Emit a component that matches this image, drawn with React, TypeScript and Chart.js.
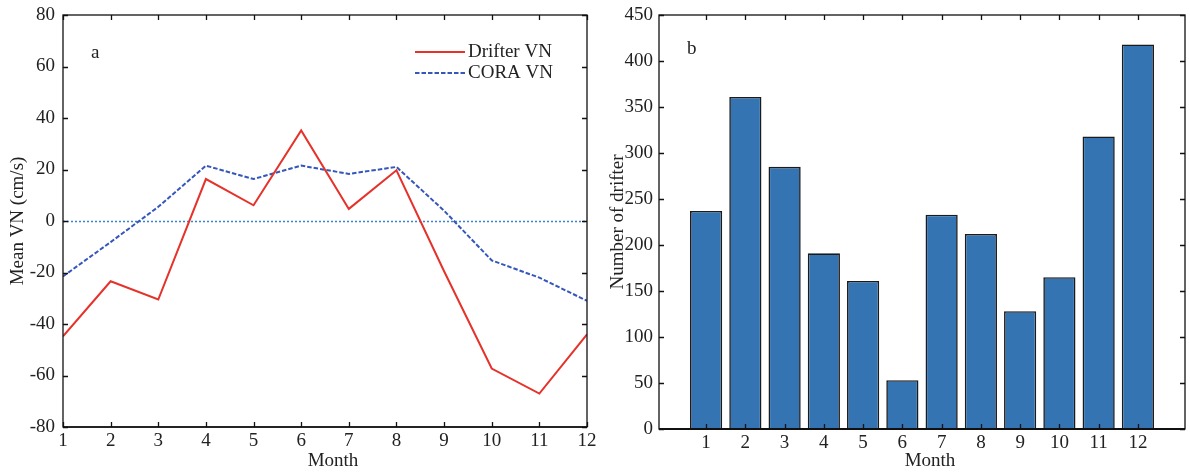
import React, { useEffect, useRef } from "react";
import { Chart, registerables } from "chart.js";
Chart.register(...registerables);

const months = [1, 2, 3, 4, 5, 6, 7, 8, 9, 10, 11, 12];
const drifterVN = [-44.8, -23.4, -30.5, 16.3, 6.1, 35.2, 4.7, 19.7, -19.5, -57.3, -67, -44];
const coraVN = [-21.5, -8.2, 5.5, 21.5, 16.3, 21.5, 18.3, 21, 4, -15.3, -22, -31];
const drifterCount = [237, 361, 285, 191, 161, 53, 233, 212, 128, 165, 318, 418];
const legendLabels = ["Drifter VN", "CORA VN"];
const xTitle = "Month";

const FONT = "'Liberation Serif', 'DejaVu Serif', serif";
const FS = 19;
const TXT = "#222";
const RED = "#e5322a";
const BLUE = "#3556bb";
const BAR = "#3474b3";

function drawBox(chart: any, bottomWidth: number) {
  const { ctx, chartArea: a, scales } = chart;
  const tl = 5;
  ctx.save();
  ctx.strokeStyle = "#111";
  ctx.lineWidth = 1.3;
  ctx.beginPath();
  scales.x.ticks.forEach((t: any) => {
    const px = Math.round(scales.x.getPixelForValue(t.value)) + 0.5;
    ctx.moveTo(px, a.bottom);
    ctx.lineTo(px, a.bottom - tl);
    ctx.moveTo(px, a.top);
    ctx.lineTo(px, a.top + tl);
  });
  scales.y.ticks.forEach((t: any) => {
    const py = Math.round(scales.y.getPixelForValue(t.value)) + 0.5;
    ctx.moveTo(a.left, py);
    ctx.lineTo(a.left + tl, py);
    ctx.moveTo(a.right, py);
    ctx.lineTo(a.right - tl, py);
  });
  ctx.stroke();
  ctx.lineWidth = 1.3;
  ctx.strokeRect(a.left, a.top, a.right - a.left, a.bottom - a.top);
  ctx.lineWidth = bottomWidth;
  ctx.beginPath();
  ctx.moveTo(a.left, a.bottom);
  ctx.lineTo(a.right, a.bottom);
  ctx.stroke();
  ctx.restore();
}

function drawText(chart: any, text: string, x: number, y: number) {
  const { ctx } = chart;
  ctx.save();
  ctx.fillStyle = TXT;
  ctx.font = `${FS}px ${FONT}`;
  ctx.textBaseline = "middle";
  ctx.textAlign = "left";
  ctx.fillText(text, x, y);
  ctx.restore();
}

function drawXTitle(chart: any, dx: number) {
  const { ctx, chartArea: a } = chart;
  ctx.save();
  ctx.fillStyle = TXT;
  ctx.font = `${FS}px ${FONT}`;
  ctx.textBaseline = "middle";
  ctx.textAlign = "center";
  ctx.fillText(xTitle, (a.left + a.right) / 2 + dx, 461);
  ctx.restore();
}

const leftPlugin = {
  id: "leftDecor",
  beforeDatasetsDraw(chart: any) {
    const { ctx, chartArea: a, scales } = chart;
    const y0 = Math.round(scales.y.getPixelForValue(0)) + 0.5;
    ctx.save();
    ctx.strokeStyle = "#3a82cf";
    ctx.lineWidth = 1.5;
    ctx.setLineDash([2, 2]);
    ctx.beginPath();
    ctx.moveTo(a.left, y0);
    ctx.lineTo(a.right, y0);
    ctx.stroke();
    ctx.restore();
  },
  afterDatasetsDraw(chart: any) {
    drawBox(chart, 1.3);
    const { ctx, chartArea: a } = chart;
    drawText(chart, "a", a.left + 28, a.top + 38);
    drawXTitle(chart, 8);
    ctx.save();
    ctx.font = `${FS}px ${FONT}`;
    ctx.textBaseline = "middle";
    ctx.textAlign = "left";
    chart.data.datasets.forEach((ds: any, i: number) => {
      const y = a.top + 37 + i * 21;
      const x0 = a.left + 352;
      ctx.strokeStyle = ds.borderColor;
      ctx.lineWidth = ds.borderWidth;
      ctx.setLineDash(ds.borderDash || []);
      ctx.beginPath();
      ctx.moveTo(x0, y);
      ctx.lineTo(x0 + 50, y);
      ctx.stroke();
      ctx.setLineDash([]);
      ctx.fillStyle = TXT;
      ctx.fillText(ds.label, x0 + 53, y);
    });
    ctx.restore();
  },
};

const rightPlugin = {
  id: "rightDecor",
  afterDatasetsDraw(chart: any) {
    drawBox(chart, 2.2);
    const { chartArea: a } = chart;
    drawText(chart, "b", a.left + 28, a.top + 34);
    drawXTitle(chart, 8);
  },
};

function yTitle(text: string) {
  return { display: true, text, color: TXT, font: { family: FONT, size: FS }, padding: { top: 7, bottom: 0 } };
}

function fixY(width: number) {
  return (s: any) => {
    s.width = width;
    s.paddingTop = 0;
    s.paddingBottom = 0;
  };
}
function fixX(height: number) {
  return (s: any) => {
    s.height = height;
    s.paddingLeft = 0;
    s.paddingRight = 0;
  };
}

function LeftChart() {
  const ref = useRef<HTMLCanvasElement>(null);
  useEffect(() => {
    const chart = new Chart(ref.current!, {
      type: "line",
      data: {
        datasets: [
          {
            label: legendLabels[0],
            data: months.map((m, i) => ({ x: m, y: drifterVN[i] })),
            borderColor: RED,
            borderWidth: 2,
            pointRadius: 0,
            tension: 0,
          },
          {
            label: legendLabels[1],
            data: months.map((m, i) => ({ x: m, y: coraVN[i] })),
            borderColor: BLUE,
            borderWidth: 2,
            borderDash: [4.5, 2],
            pointRadius: 0,
            tension: 0,
          },
        ],
      },
      options: {
        animation: false,
        responsive: false,
        devicePixelRatio: 1,
        layout: { padding: { top: 15, right: 13, left: 0, bottom: 0 } },
        plugins: { legend: { display: false }, tooltip: { enabled: false } },
        scales: {
          x: {
            type: "linear",
            min: 1,
            max: 12,
            afterBuildTicks: (s: any) => {
              s.ticks = months.map((v) => ({ value: v }));
            },
            afterFit: fixX(46),
            ticks: { color: TXT, font: { family: FONT, size: FS }, padding: 3, maxRotation: 0, autoSkip: false },
            grid: { display: false, drawTicks: false },
            border: { display: false },
          },
          y: {
            min: -80,
            max: 80,
            ticks: { stepSize: 20, color: TXT, font: { family: FONT, size: FS }, padding: 8 },
            afterFit: fixY(63),
            grid: { display: false, drawTicks: false },
            border: { display: false },
            title: yTitle("Mean VN (cm/s)"),
          },
        },
      } as any,
      plugins: [leftPlugin],
    });
    return () => chart.destroy();
  }, []);
  return <canvas ref={ref} width={600} height={473} style={{ position: "absolute", left: 0, top: 0 }} />;
}

function RightChart() {
  const ref = useRef<HTMLCanvasElement>(null);
  useEffect(() => {
    const chart = new Chart(ref.current!, {
      type: "bar",
      data: {
        datasets: [
          {
            label: "Number of drifter",
            data: months.map((m, i) => ({ x: m, y: drifterCount[i] })),
            backgroundColor: BAR,
            borderColor: "#1b1b1b",
            borderWidth: 1.6,
            barPercentage: 0.82,
            categoryPercentage: 1,
          },
        ],
      },
      options: {
        animation: false,
        responsive: false,
        devicePixelRatio: 1,
        layout: { padding: { top: 15, right: 5, left: 0, bottom: 0 } },
        plugins: { legend: { display: false }, tooltip: { enabled: false } },
        scales: {
          x: {
            type: "linear",
            min: -0.2,
            max: 13.2,
            offset: false,
            afterBuildTicks: (s: any) => {
              s.ticks = months.map((v) => ({ value: v }));
            },
            afterFit: fixX(44),
            ticks: { color: TXT, font: { family: FONT, size: FS }, padding: 3, maxRotation: 0, autoSkip: false },
            grid: { display: false, drawTicks: false },
            border: { display: false },
          },
          y: {
            min: 0,
            max: 450,
            ticks: { stepSize: 50, color: TXT, font: { family: FONT, size: FS }, padding: 6 },
            afterFit: fixY(59),
            grid: { display: false, drawTicks: false },
            border: { display: false },
            title: yTitle("Number of drifter"),
          },
        },
      } as any,
      plugins: [rightPlugin],
    });
    return () => chart.destroy();
  }, []);
  return <canvas ref={ref} width={590} height={473} style={{ position: "absolute", left: 600, top: 0 }} />;
}

export default function App() {
  return (
    <div style={{ position: "absolute", left: 0, top: 0, width: 1190, height: 473, background: "#fff", overflow: "hidden" }}>
      <LeftChart />
      <RightChart />
    </div>
  );
}
